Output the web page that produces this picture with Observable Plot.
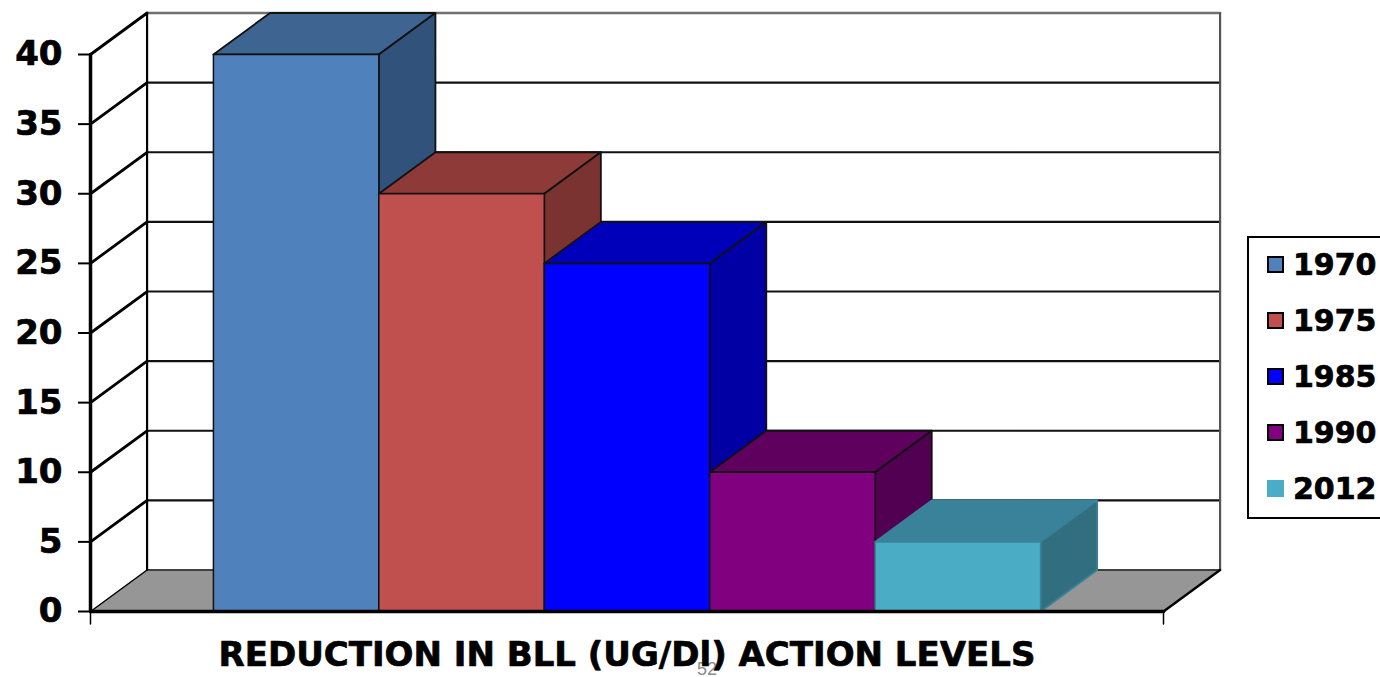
<!DOCTYPE html>
<html>
<head>
<meta charset="utf-8">
<script src="https://cdn.jsdelivr.net/npm/d3@7"></script>
<script src="https://cdn.jsdelivr.net/npm/@observablehq/plot@0.6"></script>
<style>
html,body{margin:0;padding:0;background:#fff;overflow:hidden}
#wrap{position:relative;width:1380px;height:677px;font-family:"DejaVu Sans",sans-serif}
#legend{position:absolute;left:1247px;top:236px;width:140px;height:279px;border:2px solid #000;box-sizing:content-box;background:#fff}
.row{position:absolute;left:0;display:flex;align-items:center;height:40px}
.sw{position:absolute;left:18px;top:11px;width:17px;height:17px;box-sizing:border-box}
.lb{position:absolute;left:44px;top:0;line-height:40px;font-size:30px;font-weight:700;color:#000;-webkit-text-stroke:0.7px #000}
g[aria-label="y-axis tick label"] text{stroke:#000;stroke-width:0.7px}
</style>
</head>
<body>
<div id="wrap"></div>
<script>
const years = ["1970", "1975", "1985", "1990", "2012"];
const values = [40, 30, 25, 10, 5];
const frontColors = ["#4F81BD", "#C0504D", "#0000FF", "#800080", "#4BACC6"];
const topColors = ["#3E6491", "#8D3A39", "#0000BB", "#5F005F", "#3A8299"];
const sideColors = ["#31527A", "#7A3331", "#0000A5", "#520052", "#316F80"];
const swatchBorders = ["#000", "#000", "#000", "#000", "none"];
const yTicks = [0, 5, 10, 15, 20, 25, 30, 35, 40];
const axisTitle = "REDUCTION IN BLL (UG/Dl) ACTION LEVELS";
const pageNumber = "52";

// Chart units: one bar is 1 wide on x; the floor runs past the bars on each side.
const xMin = -0.743, xMax = 5.743;
const depthX = 0.342, depthY = 2.98;   // oblique depth, in x and y units
const yMax = 40;

const poly = (pts, opts) => Plot.line([...pts, pts[0]], {x: d => d[0], y: d => d[1], ...opts});
const seg = (a, b, opts) => Plot.line([a, b], {x: d => d[0], y: d => d[1], ...opts});

const wallMarks = [
  // floor
  poly([[xMin, 0], [xMax, 0], [xMax + depthX, depthY], [xMin + depthX, depthY]], {fill: "#969696", stroke: "none"}),
  // back wall lines
  ...yTicks.map(t => seg([xMin + depthX, t + depthY], [xMax + depthX, t + depthY],
    {stroke: t === 0 ? "#404040" : t === yMax ? "#707070" : "#111", strokeWidth: t === yMax ? 2.5 : 2.2})),
  // left wall depth lines
  ...yTicks.map(t => seg([xMin, t], [xMin + depthX, t + depthY], {stroke: "#000", strokeWidth: t === 0 ? 1.5 : 2.8})),
  // back verticals
  seg([xMin + depthX, depthY], [xMin + depthX, yMax + depthY], {stroke: "#000", strokeWidth: 2.2}),
  seg([xMax + depthX, depthY], [xMax + depthX, yMax + depthY], {stroke: "#555", strokeWidth: 2.2}),
  // floor right edge
  seg([xMax, 0], [xMax + depthX, depthY], {stroke: "#000", strokeWidth: 2.4})
];

const barMarks = years.flatMap((yr, i) => {
  const a = i, b = i + 1, v = values[i];
  const edge = {stroke: i === 4 ? "#3A8299" : "#111", strokeWidth: 1.8, strokeLinejoin: "round"};
  return [
    poly([[a, v], [b, v], [b + depthX, v + depthY], [a + depthX, v + depthY]], {fill: topColors[i], ...edge}),
    poly([[b, 0], [b + depthX, depthY], [b + depthX, v + depthY], [b, v]], {fill: sideColors[i], ...edge}),
    poly([[a, 0], [b, 0], [b, v], [a, v]], {fill: frontColors[i], stroke: i === 4 ? "#3A8299" : "#111", strokeWidth: 1.5})
  ];
});

const chart = Plot.plot({
  width: 1380,
  height: 677,
  marginLeft: 90,
  marginRight: 217,
  marginTop: 54,
  marginBottom: 66,
  style: {background: "#fff", fontFamily: "'DejaVu Sans', sans-serif", overflow: "visible"},
  x: {type: "linear", domain: [xMin, xMax], axis: null},
  y: {type: "linear", domain: [0, yMax], axis: null},
  marks: [
    ...wallMarks,
    ...barMarks,
    // front axis lines
    seg([xMin, 0], [xMin, yMax], {stroke: "#000", strokeWidth: 3.5}),
    seg([xMin, 0], [xMax, 0], {stroke: "#000", strokeWidth: 3.5}),
    Plot.axisY(yTicks, {
      anchor: "left", label: null, tickSize: 12, tickPadding: 16,
      fontSize: 34, fontWeight: 700, stroke: "#000", strokeWidth: 2,
      tickFormat: d => String(d)
    }),
    seg([xMin, 0], [xMin, -0.9], {stroke: "#000", strokeWidth: 1.5}),
    seg([xMax, 0], [xMax, -0.9], {stroke: "#000", strokeWidth: 1.5}),
    Plot.text([pageNumber], {x: 2.5, y: 0, dx: 80, dy: 58, fontSize: 18, fill: "#8c8c8c", fontFamily: "Liberation Sans", text: d => d}),
    Plot.text([axisTitle], {x: 2.5, y: 0, dy: 44, fontSize: 34, fontWeight: 700, fill: "#000", stroke: "#000", strokeWidth: 0.7, text: d => d})
  ]
});
const wrap = document.getElementById("wrap");
wrap.appendChild(chart);

const legend = document.createElement("div");
legend.id = "legend";
years.forEach((yr, i) => {
  const row = document.createElement("div");
  row.className = "row";
  row.style.top = (7 + i * 56) + "px";
  const sw = document.createElement("div");
  sw.className = "sw";
  sw.style.background = frontColors[i];
  if (swatchBorders[i] !== "none") sw.style.border = "2px solid " + swatchBorders[i];
  const lb = document.createElement("div");
  lb.className = "lb";
  lb.textContent = yr;
  row.append(sw, lb);
  legend.append(row);
});
wrap.appendChild(legend);
</script>
</body>
</html>
